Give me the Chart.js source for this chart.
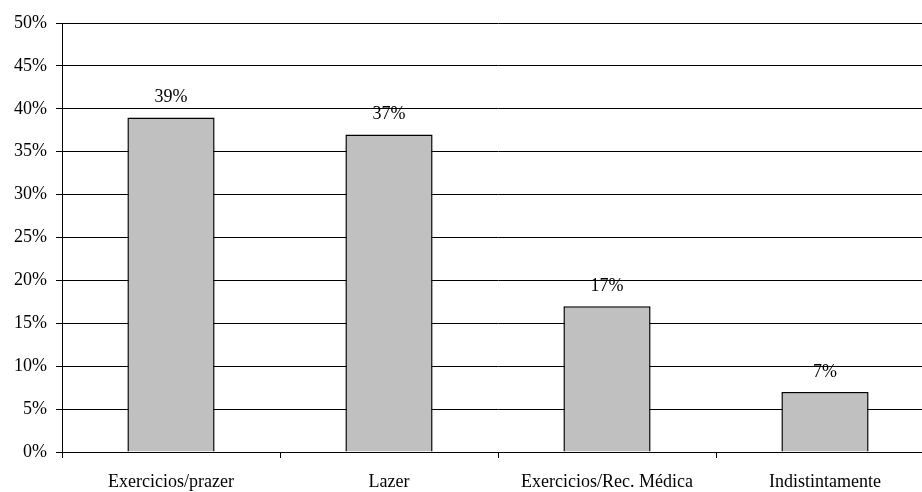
<!DOCTYPE html>
<html>
<head>
<meta charset="utf-8">
<script src="https://cdn.jsdelivr.net/npm/chart.js@4.4.1/dist/chart.umd.min.js"></script>
<style>
  html, body { margin: 0; padding: 0; background: #fff; overflow: hidden; }
  #wrap { width: 940px; height: 492px; }
</style>
</head>
<body>
<div id="wrap"><canvas id="c" width="940" height="492"></canvas></div>
<script>
// Categories and shares (percent)
const categories = ['Exercicios/prazer', 'Lazer', 'Exercicios/Rec. Médica', 'Indistintamente'];
const shares = [39, 37, 17, 7];
const valueLabels = ['39%', '37%', '17%', '7%'];

const FONT = { family: '"Liberation Serif", "Times New Roman", serif', size: 18 };

// Draws each value label above its bar
const barValueLabels = {
  id: 'barValueLabels',
  afterDatasetsDraw(chart) {
    const ctx = chart.ctx;
    const meta = chart.getDatasetMeta(0);
    ctx.save();
    ctx.font = FONT.size + 'px ' + FONT.family;
    ctx.fillStyle = '#000';
    ctx.textAlign = 'center';
    ctx.textBaseline = 'middle';
    meta.data.forEach((bar, i) => {
      ctx.fillText(valueLabels[i], bar.x, bar.y - 20);
    });
    ctx.restore();
  }
};

new Chart(document.getElementById('c'), {
  type: 'bar',
  data: {
    labels: categories,
    datasets: [{
      data: shares,
      backgroundColor: '#C0C0C0',
      borderColor: '#000',
      borderWidth: 1.5,
      barPercentage: 0.8,
      categoryPercentage: 0.5
    }]
  },
  options: {
    responsive: false,
    animation: false,
    devicePixelRatio: 1,
    layout: { padding: { top: 23, right: 6, left: 0, bottom: 0 } },
    plugins: {
      legend: { display: false },
      tooltip: { enabled: false }
    },
    scales: {
      x: {
        offset: true,
        grid: {
          offset: true,
          drawOnChartArea: false,
          drawTicks: true,
          tickLength: 6,
          color: '#000'
        },
        border: { display: true, color: '#000', width: 1 },
        ticks: { color: '#000', font: FONT, padding: 13, maxRotation: 0, autoSkip: false },
        afterFit(scale) { scale.height = 40; }
      },
      y: {
        min: 0,
        max: 50,
        ticks: {
          stepSize: 5,
          color: '#000',
          font: FONT,
          padding: 9,
          callback: v => v + '%'
        },
        grid: {
          color: '#000',
          lineWidth: 1,
          drawTicks: true,
          tickLength: 6
        },
        border: { display: true, color: '#000', width: 1 },
        afterFit(scale) { scale.width = 62; }
      }
    }
  },
  plugins: [barValueLabels]
});
</script>
</body>
</html>
